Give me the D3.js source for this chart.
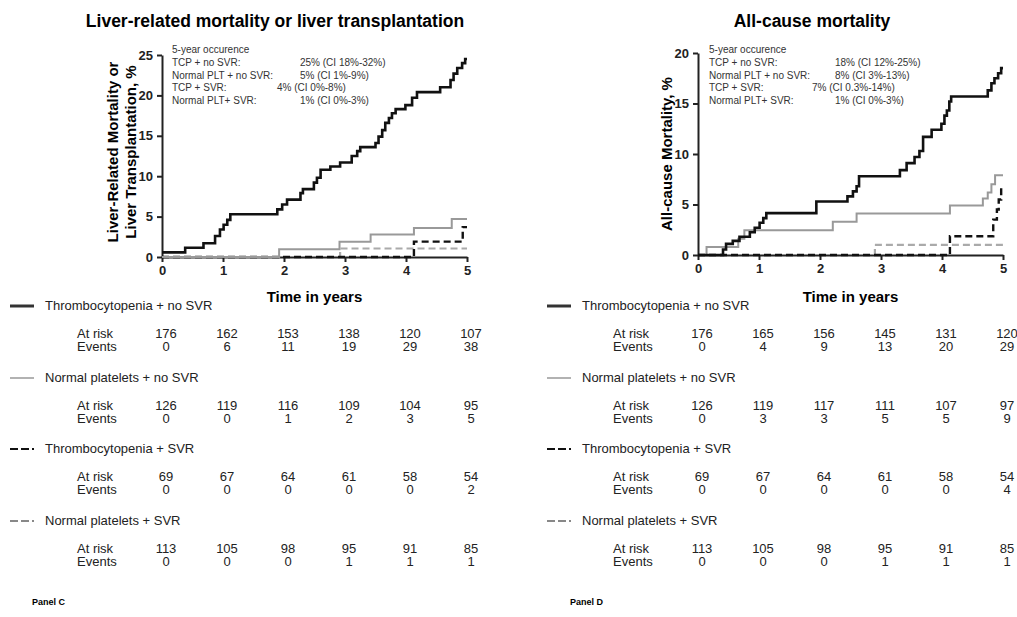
<!DOCTYPE html>
<html>
<head>
<meta charset="utf-8">
<script src="https://cdn.jsdelivr.net/npm/d3@7"></script>
<style>
  body { margin: 0; background: #fff; }
  svg { font-family: "Liberation Sans", Arial, sans-serif; }
</style>
</head>
<body>
<div id="chart"></div>
<script>
// ---- data ----
const xTicks = [0, 1, 2, 3, 4, 5];
const yTicksLiver = [0, 5, 10, 15, 20, 25];
const yTicksAll = [0, 5, 10, 15, 20];

const groupNames = ["Thrombocytopenia + no SVR", "Normal platelets + no SVR",
  "Thrombocytopenia + SVR", "Normal platelets + SVR"];
const annotLabels = ["TCP + no SVR:", "Normal PLT + no SVR:", "TCP + SVR:", "Normal PLT+ SVR:"];
const annotLiver = ["25% (CI 18%-32%)", "5% (CI 1%-9%)", "4% (CI 0%-8%)", "1% (CI 0%-3%)"];
const annotAll = ["18% (CI 12%-25%)", "8% (CI 3%-13%)", "7% (CI 0.3%-14%)", "1% (CI 0%-3%)"];

// step curves: [time of jump, cumulative %]
const liverTcpNoSvr = [[0, 0.57], [0.38, 1.14], [0.68, 1.7], [0.87, 2.6], [0.95, 3.4], [1.01, 4.0],
  [1.07, 4.6], [1.12, 5.3], [1.89, 5.9], [1.97, 6.5], [2.05, 7.1], [2.27, 7.9], [2.31, 8.4],
  [2.49, 9.2], [2.54, 9.8], [2.6, 10.8], [2.76, 11.2], [2.92, 11.7], [3.11, 12.5], [3.2, 13.1],
  [3.25, 13.6], [3.5, 14.1], [3.55, 14.9], [3.61, 15.7], [3.66, 16.6], [3.72, 17.2], [3.77, 17.8],
  [3.83, 18.3], [3.99, 18.8], [4.1, 19.7], [4.18, 20.4], [4.56, 21.0], [4.73, 21.9], [4.78, 22.7],
  [4.84, 23.4], [4.92, 24.0], [4.97, 24.5]];
const liverNormNoSvr = [[0, 0], [1.92, 0.95], [2.91, 1.9], [3.42, 2.8], [4.13, 3.6], [4.75, 4.7]];
const liverTcpSvr = [[0, 0], [4.13, 1.9], [4.93, 3.7]];
const liverNormSvr = [[0, 0], [2.92, 1.05]];

const allTcpNoSvr = [[0, 0], [0.41, 0.55], [0.46, 1.1], [0.57, 1.4], [0.68, 1.8], [0.85, 2.25],
  [0.93, 2.7], [1.01, 3.2], [1.07, 3.65], [1.12, 4.15], [1.94, 5.3], [2.45, 5.8], [2.54, 6.3],
  [2.6, 6.8], [2.64, 7.8], [3.31, 8.4], [3.42, 9.1], [3.55, 9.7], [3.63, 10.3], [3.69, 11.7],
  [3.83, 12.4], [3.99, 13.0], [4.04, 13.8], [4.08, 14.3], [4.12, 15.2], [4.15, 15.7], [4.75, 16.3],
  [4.81, 17.0], [4.86, 17.5], [4.92, 18.0], [4.97, 18.5]];
const allNormNoSvr = [[0, 0], [0.14, 0.8], [0.66, 1.6], [0.76, 2.45], [2.21, 3.3], [2.6, 4.1],
  [4.13, 4.9], [4.67, 5.6], [4.75, 6.2], [4.81, 7.0], [4.87, 7.9]];
const allTcpSvr = [[0, 0], [4.13, 1.85], [4.84, 3.5], [4.9, 4.5], [4.93, 5.5], [4.97, 6.8]];
const allNormSvr = [[0, 0], [2.9, 1.0]];

// numbers at risk / events at 0..5 years
const liverAtRisk = [[176, 162, 153, 138, 120, 107], [126, 119, 116, 109, 104, 95],
  [69, 67, 64, 61, 58, 54], [113, 105, 98, 95, 91, 85]];
const liverEvents = [[0, 6, 11, 19, 29, 38], [0, 0, 1, 2, 3, 5],
  [0, 0, 0, 0, 0, 2], [0, 0, 0, 1, 1, 1]];
const allAtRisk = [[176, 165, 156, 145, 131, 120], [126, 119, 117, 111, 107, 97],
  [69, 67, 64, 61, 58, 54], [113, 105, 98, 95, 91, 85]];
const allEvents = [[0, 4, 9, 13, 20, 29], [0, 3, 3, 5, 5, 9],
  [0, 0, 0, 0, 0, 4], [0, 0, 0, 1, 1, 1]];

// line styles per group
const styles = [
  { stroke: "#111", width: 2.6, dash: null },
  { stroke: "#999", width: 2, dash: null },
  { stroke: "#111", width: 2.4, dash: "7,4" },
  { stroke: "#aaa", width: 2.2, dash: "7,4" }
];

const W = 1017, H = 617;
const svg = d3.select("#chart").append("svg").attr("width", W).attr("height", H);

function drawPanel(opt) {
  const x = d3.scaleLinear().domain([0, 5]).range([opt.x0, opt.x1]);
  const y = d3.scaleLinear().domain([0, opt.yMax]).range([opt.yBottom, opt.yTop]);
  const g = svg.append("g");

  // title
  g.append("text").attr("x", opt.titleX).attr("y", 27).attr("text-anchor", "middle")
    .style("font-size", "17.5px").style("font-weight", "bold").text(opt.title);

  // axes
  const fmt = d3.format("d");
  const xAxis = g.append("g").attr("transform", `translate(0,${opt.yBottom})`)
    .call(d3.axisBottom(x).tickValues(xTicks).tickFormat(fmt).tickSize(5).tickSizeOuter(0).tickPadding(4));
  const yAxis = g.append("g").attr("transform", `translate(${opt.x0},0)`)
    .call(d3.axisLeft(y).tickValues(opt.yTicks).tickFormat(fmt).tickSize(5).tickSizeOuter(0).tickPadding(4));
  [xAxis, yAxis].forEach(a => {
    a.select(".domain").attr("stroke", "#222").attr("stroke-width", 2);
    a.selectAll(".tick line").attr("stroke", "#222").attr("stroke-width", 2);
    a.selectAll(".tick text").attr("fill", "#222").style("font-size", "13px")
      .style("font-weight", "bold").style("font-family", "Liberation Sans, Arial, sans-serif");
  });

  g.append("text").attr("x", (opt.x0 + opt.x1) / 2).attr("y", 302).attr("text-anchor", "middle")
    .style("font-size", "15px").style("font-weight", "bold").text("Time in years");

  // y title (one or two lines)
  const yt = g.append("text").attr("transform", `translate(${opt.yTitleX},${opt.yTitleY}) rotate(-90)`)
    .attr("text-anchor", "middle").style("font-size", "15px").style("font-weight", "bold");
  opt.yTitle.forEach((line, i) => {
    yt.append("tspan").attr("x", 0).attr("dy", i === 0 ? 0 : "1.2em").text(line);
  });

  // curves (draw lower ones first)
  const line = d3.line().curve(d3.curveStepAfter).x(d => x(d[0])).y(d => y(d[1]));
  [3, 2, 1, 0].forEach(i => {
    const pts = opt.series[i].concat([[5, opt.series[i][opt.series[i].length - 1][1]]]);
    g.append("path").datum(pts).attr("d", line).attr("fill", "none")
      .attr("stroke", styles[i].stroke).attr("stroke-width", styles[i].width)
      .attr("stroke-dasharray", styles[i].dash);
  });

  // 5-year occurrence annotation
  const ann = g.append("g").style("font-size", "10px").attr("fill", "#333");
  ann.append("text").attr("x", opt.annX).attr("y", 53).text("5-year occurence");
  annotLabels.forEach((lab, i) => {
    const yy = 66 + i * 12.5;
    ann.append("text").attr("x", opt.annX).attr("y", yy).text(lab);
    ann.append("text").attr("x", i === 2 ? opt.annValX - 23 : opt.annValX).attr("y", yy).text(opt.annVals[i]);
  });

  // legend + risk table
  const rows = [310, 382, 453, 525];
  const tbl = g.append("g").style("font-size", "13px").attr("fill", "#222");
  groupNames.forEach((name, i) => {
    const ly = rows[i];
    tbl.append("line").attr("x1", opt.legX).attr("x2", opt.legX + 24).attr("y1", ly - 4).attr("y2", ly - 4)
      .attr("stroke", i === 0 ? "#333" : (i === 1 ? "#999" : (i === 2 ? "#111" : "#888")))
      .attr("stroke-width", i === 0 ? 3 : (i === 1 ? 1.5 : 2))
      .attr("stroke-dasharray", i >= 2 ? "8,3" : null);
    tbl.append("text").attr("x", opt.legX + 35).attr("y", ly).text(name);
    tbl.append("text").attr("x", opt.tblX).attr("y", ly + 28).text("At risk");
    tbl.append("text").attr("x", opt.tblX).attr("y", ly + 41).text("Events");
    xTicks.forEach((t, j) => {
      tbl.append("text").attr("x", x(t) + 4).attr("y", ly + 28).attr("text-anchor", "middle").text(opt.atRisk[i][j]);
      tbl.append("text").attr("x", x(t) + 4).attr("y", ly + 41).attr("text-anchor", "middle").text(opt.events[i][j]);
    });
  });

  g.append("text").attr("x", opt.panelX).attr("y", 605).style("font-size", "9px")
    .style("font-weight", "bold").text(opt.panel);
}

drawPanel({
  title: "Liver-related mortality or liver transplantation", titleX: 275,
  x0: 162, x1: 467, yTop: 55, yBottom: 257, yMax: 25, yTicks: yTicksLiver,
  yTitle: ["Liver-Related Mortality or", "Liver Transplantation, %"], yTitleX: 118, yTitleY: 152,
  series: [liverTcpNoSvr, liverNormNoSvr, liverTcpSvr, liverNormSvr],
  annX: 172, annValX: 300, annVals: annotLiver,
  legX: 10, tblX: 77, atRisk: liverAtRisk, events: liverEvents,
  panelX: 32, panel: "Panel C"
});

drawPanel({
  title: "All-cause mortality", titleX: 812,
  x0: 698, x1: 1003, yTop: 53, yBottom: 255, yMax: 20, yTicks: yTicksAll,
  yTitle: ["All-cause Mortality, %"], yTitleX: 672, yTitleY: 154,
  series: [allTcpNoSvr, allNormNoSvr, allTcpSvr, allNormSvr],
  annX: 709, annValX: 835, annVals: annotAll,
  legX: 547, tblX: 613, atRisk: allAtRisk, events: allEvents,
  panelX: 570, panel: "Panel D"
});
</script>
</body>
</html>
